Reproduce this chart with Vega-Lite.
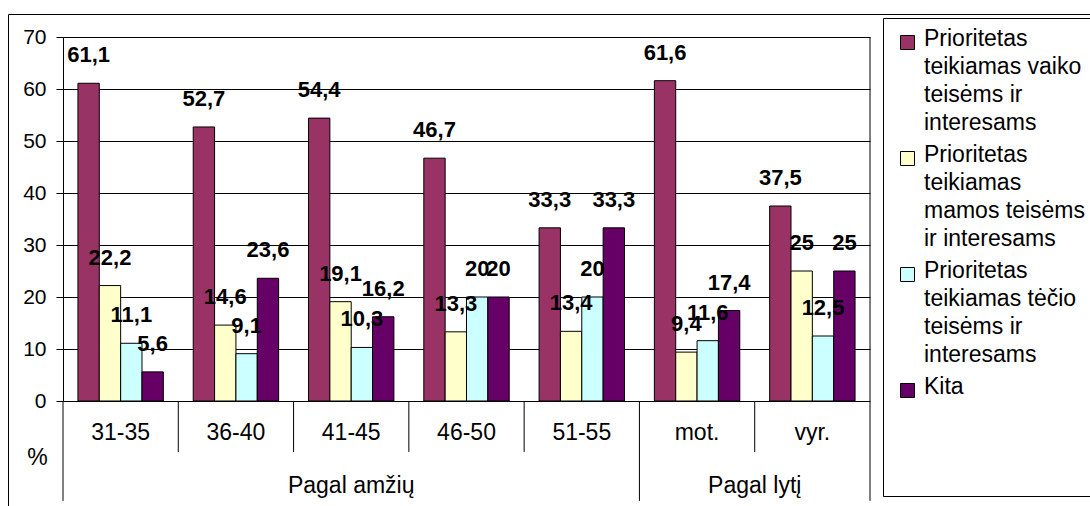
{
  "$schema": "https://vega.github.io/schema/vega-lite/v6.json",
  "width": 1090,
  "height": 495,
  "autosize": {"type": "none"},
  "padding": {"left": 8, "top": 14, "right": 0, "bottom": 0},
  "config": {
    "font": "Liberation Sans",
    "view": {"stroke": "#000000", "strokeWidth": 1},
    "locale": {"number": {"decimal": ",", "thousands": ".", "grouping": [3], "currency": ["", ""]}},
    "text": {"color": "#000000"}
  },
  "data": {
    "values": [
      {"category": "31-35", "group": "Pagal amžių", "series": "Prioritetas teikiamas vaiko teisėms ir interesams", "value": 61.1},
      {"category": "31-35", "group": "Pagal amžių", "series": "Prioritetas teikiamas mamos teisėms ir interesams", "value": 22.2},
      {"category": "31-35", "group": "Pagal amžių", "series": "Prioritetas teikiamas tėčio teisėms ir interesams", "value": 11.1},
      {"category": "31-35", "group": "Pagal amžių", "series": "Kita", "value": 5.6},
      {"category": "36-40", "group": "Pagal amžių", "series": "Prioritetas teikiamas vaiko teisėms ir interesams", "value": 52.7},
      {"category": "36-40", "group": "Pagal amžių", "series": "Prioritetas teikiamas mamos teisėms ir interesams", "value": 14.6},
      {"category": "36-40", "group": "Pagal amžių", "series": "Prioritetas teikiamas tėčio teisėms ir interesams", "value": 9.1},
      {"category": "36-40", "group": "Pagal amžių", "series": "Kita", "value": 23.6},
      {"category": "41-45", "group": "Pagal amžių", "series": "Prioritetas teikiamas vaiko teisėms ir interesams", "value": 54.4},
      {"category": "41-45", "group": "Pagal amžių", "series": "Prioritetas teikiamas mamos teisėms ir interesams", "value": 19.1},
      {"category": "41-45", "group": "Pagal amžių", "series": "Prioritetas teikiamas tėčio teisėms ir interesams", "value": 10.3},
      {"category": "41-45", "group": "Pagal amžių", "series": "Kita", "value": 16.2},
      {"category": "46-50", "group": "Pagal amžių", "series": "Prioritetas teikiamas vaiko teisėms ir interesams", "value": 46.7},
      {"category": "46-50", "group": "Pagal amžių", "series": "Prioritetas teikiamas mamos teisėms ir interesams", "value": 13.3},
      {"category": "46-50", "group": "Pagal amžių", "series": "Prioritetas teikiamas tėčio teisėms ir interesams", "value": 20},
      {"category": "46-50", "group": "Pagal amžių", "series": "Kita", "value": 20},
      {"category": "51-55", "group": "Pagal amžių", "series": "Prioritetas teikiamas vaiko teisėms ir interesams", "value": 33.3},
      {"category": "51-55", "group": "Pagal amžių", "series": "Prioritetas teikiamas mamos teisėms ir interesams", "value": 13.4},
      {"category": "51-55", "group": "Pagal amžių", "series": "Prioritetas teikiamas tėčio teisėms ir interesams", "value": 20},
      {"category": "51-55", "group": "Pagal amžių", "series": "Kita", "value": 33.3},
      {"category": "mot.", "group": "Pagal lytį", "series": "Prioritetas teikiamas vaiko teisėms ir interesams", "value": 61.6},
      {"category": "mot.", "group": "Pagal lytį", "series": "Prioritetas teikiamas mamos teisėms ir interesams", "value": 9.4},
      {"category": "mot.", "group": "Pagal lytį", "series": "Prioritetas teikiamas tėčio teisėms ir interesams", "value": 11.6},
      {"category": "mot.", "group": "Pagal lytį", "series": "Kita", "value": 17.4},
      {"category": "vyr.", "group": "Pagal lytį", "series": "Prioritetas teikiamas vaiko teisėms ir interesams", "value": 37.5},
      {"category": "vyr.", "group": "Pagal lytį", "series": "Prioritetas teikiamas mamos teisėms ir interesams", "value": 25},
      {"category": "vyr.", "group": "Pagal lytį", "series": "Prioritetas teikiamas tėčio teisėms ir interesams", "value": 12.5},
      {"category": "vyr.", "group": "Pagal lytį", "series": "Kita", "value": 25}
    ]
  },
  "layer": [
    {
      "mark": {"type": "bar", "stroke": "#000000", "strokeWidth": 1},
      "encoding": {
        "x": {
          "field": "category", "type": "nominal",
          "scale": {"domain": ["31-35", "36-40", "41-45", "46-50", "51-55", "mot.", "vyr."], "range": [55, 862], "paddingInner": 0, "paddingOuter": 0},
          "axis": null
        },
        "xOffset": {
          "field": "series", "type": "nominal",
          "scale": {"domain": ["Prioritetas teikiamas vaiko teisėms ir interesams", "Prioritetas teikiamas mamos teisėms ir interesams", "Prioritetas teikiamas tėčio teisėms ir interesams", "Kita"], "paddingInner": 0, "paddingOuter": 0.7}
        },
        "y": {
          "field": "value", "type": "quantitative",
          "scale": {"domain": [0, 70], "range": [387, 23], "nice": false, "zero": false},
          "axis": {
            "title": "%", "offset": -55, "values": [0, 10, 20, 30, 40, 50, 60, 70],
            "domainColor": "#000000", "tickColor": "#000000", "tickSize": 7,
            "grid": true, "gridColor": "#000000", "gridWidth": 1, "gridOpacity": 1,
            "labelFontSize": 21, "labelColor": "#000000", "labelPadding": 10, "labelFont": "Liberation Sans",
            "titleAngle": 0, "titleFontSize": 23, "titleFontWeight": "normal", "titleColor": "#000000",
            "titleX": -26, "titleY": 443, "titleAlign": "center", "titleBaseline": "middle", "titleFont": "Liberation Sans"
          }
        },
        "color": {
          "field": "series", "type": "nominal",
          "scale": {
            "domain": ["Prioritetas teikiamas vaiko teisėms ir interesams", "Prioritetas teikiamas mamos teisėms ir interesams", "Prioritetas teikiamas tėčio teisėms ir interesams", "Kita"],
            "range": ["#993366", "#FFFFCC", "#CCFFFF", "#660066"]
          },
          "legend": {
            "title": " ", "titleOrient": "bottom", "titlePadding": 79, "titleFontSize": 4,
            "orient": "none", "legendX": 875, "legendY": 4,
            "strokeColor": "#000000", "fillColor": "#FFFFFF", "padding": 13,
            "symbolType": "square", "symbolSize": 196, "symbolStrokeColor": "#000000", "symbolStrokeWidth": 1, "symbolOpacity": 1,
            "labelFont": "Liberation Sans", "labelFontSize": 14, "labelColor": "#000000", "labelLimit": 400, "labelOffset": 5,
            "labelBaseline": "top", "rowPadding": 8,
            "labelExpr": "datum.label == 'Kita' ? 'Kita' : indexof(datum.label, 'vaiko') > 0 ? ['Prioritetas', 'teikiamas vaiko', 'teisėms ir', 'interesams'] : indexof(datum.label, 'mamos') > 0 ? ['Prioritetas', 'teikiamas', 'mamos teisėms', 'ir interesams'] : ['Prioritetas', 'teikiamas tėčio', 'teisėms ir', 'interesams']",
            "encoding": {"labels": {"fontSize": {"value": 23}, "lineHeight": {"value": 28}, "dy": {"value": -15}}}
          }
        }
      }
    },
    {
      "mark": {"type": "text", "fontWeight": "bold", "fontSize": 22, "dy": -28, "baseline": "middle", "align": "center", "font": "Liberation Sans"},
      "encoding": {
        "x": {"field": "category", "type": "nominal"},
        "xOffset": {"field": "series", "type": "nominal"},
        "y": {"field": "value", "type": "quantitative"},
        "text": {"field": "value", "type": "quantitative", "format": "~g"}
      }
    },
    {
      "transform": [{"filter": "datum.series == 'Kita'"}],
      "mark": {"type": "text", "fontSize": 23, "baseline": "middle", "align": "center", "font": "Liberation Sans"},
      "encoding": {
        "x": {"field": "category", "type": "nominal"},
        "y": {"datum": -6.2},
        "text": {"field": "category", "type": "nominal"}
      }
    },
    {
      "transform": [{"filter": "datum.series == 'Kita' && datum.category == '41-45'"}],
      "mark": {"type": "text", "fontSize": 23, "baseline": "middle", "align": "center", "font": "Liberation Sans"},
      "encoding": {
        "x": {"field": "category", "type": "nominal"},
        "y": {"datum": -16.3},
        "text": {"field": "group", "type": "nominal"}
      }
    },
    {
      "transform": [{"filter": "datum.series == 'Kita' && datum.category == 'vyr.'"}],
      "mark": {"type": "text", "fontSize": 23, "baseline": "middle", "align": "center", "font": "Liberation Sans"},
      "encoding": {
        "x": {"field": "category", "type": "nominal", "bandPosition": 0},
        "y": {"datum": -16.3},
        "text": {"field": "group", "type": "nominal"}
      }
    },
    {
      "transform": [{"filter": "datum.series == 'Kita' && datum.category != '31-35' && datum.category != 'mot.'"}],
      "mark": {"type": "rule", "color": "#000000", "strokeWidth": 1},
      "encoding": {
        "x": {"field": "category", "type": "nominal", "bandPosition": 0},
        "y": {"datum": 0},
        "y2": {"datum": -9.8}
      }
    },
    {
      "transform": [{"filter": "datum.series == 'Kita' && (datum.category == '31-35' || datum.category == 'mot.')"}],
      "mark": {"type": "rule", "color": "#000000", "strokeWidth": 1},
      "encoding": {
        "x": {"field": "category", "type": "nominal", "bandPosition": 0},
        "y": {"datum": 0},
        "y2": {"datum": -19.2}
      }
    },
    {
      "transform": [{"filter": "datum.series == 'Kita' && datum.category == 'vyr.'"}],
      "mark": {"type": "rule", "color": "#000000", "strokeWidth": 1},
      "encoding": {
        "x": {"field": "category", "type": "nominal", "bandPosition": 1},
        "y": {"datum": 70},
        "y2": {"datum": -19.2}
      }
    }
  ]
}
